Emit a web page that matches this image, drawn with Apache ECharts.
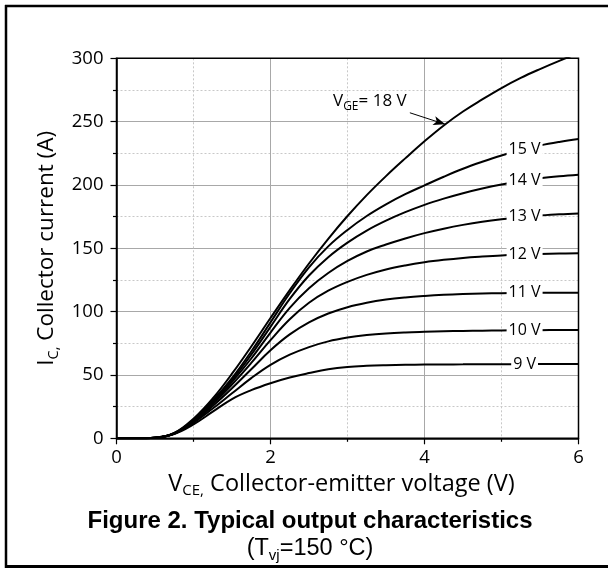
<!DOCTYPE html>
<html>
<head>
<meta charset="utf-8">
<script src="https://cdn.jsdelivr.net/npm/echarts@6/dist/echarts.min.js"></script>
<style>
html,body{margin:0;padding:0;background:#fff;}
#c{width:608px;height:568px;}
</style>
</head>
<body>
<div id="c"></div>
<script>
// ---- data ----
const vce  = [0, 0.25, 0.5, 0.75, 1, 1.25, 1.5, 1.75, 2, 2.25, 2.5, 2.75, 3, 3.25, 3.5, 3.75, 4, 4.25, 4.5, 4.75, 5, 5.25, 5.5, 5.75, 6];
const ic9  = [0, 0, 0.4, 3.4, 11, 21, 31, 38, 43.5, 48, 51.5, 54.5, 56.3, 57.2, 57.7, 58, 58.2, 58.3, 58.4, 58.5, 58.5, 58.6, 58.6, 58.7, 58.7];
const ic10 = [0, 0, 0.4, 3.6, 12.2, 23.5, 35.5, 47.5, 58, 66, 72, 76.5, 79.5, 81.5, 82.8, 83.6, 84.1, 84.5, 84.8, 85, 85.2, 85.3, 85.4, 85.5, 85.5];
const ic11 = [0, 0, 0.4, 3.7, 13, 25.5, 39.5, 54.5, 69.5, 82, 91.5, 98.5, 103.5, 107, 109.5, 111.2, 112.4, 113.3, 113.9, 114.3, 114.6, 114.8, 114.9, 115, 115];
const ic12 = [0, 0, 0.4, 3.8, 13.5, 27, 42.5, 59.5, 77.5, 94, 107, 116.5, 123.5, 129, 133.3, 136.5, 139, 140.9, 142.4, 143.5, 144.4, 145, 145.5, 145.8, 146];
const ic13 = [0, 0, 0.4, 3.9, 14, 28, 44.5, 63, 83.5, 103, 118.5, 130.5, 140, 147.5, 153, 157.8, 162, 165.5, 168.5, 171, 173, 174.6, 175.8, 176.8, 177.5];
const ic14 = [0, 0, 0.4, 4, 14.5, 29, 46, 66, 88, 110, 128.5, 143, 154.5, 164, 171.8, 178.5, 184.3, 189.2, 193.5, 197.2, 200.4, 203, 205.2, 206.8, 208];
const ic15 = [0, 0, 0.4, 4, 14.8, 29.8, 47.5, 68.5, 91.5, 114.5, 135, 151.5, 164.5, 175.5, 184.7, 192.7, 199.7, 206.5, 212.8, 218.3, 223.3, 227.6, 231.2, 234, 236.3];
const ic18 = [0, 0, 0.4, 4.2, 15.5, 31.5, 51, 72.5, 95, 117, 138, 157.5, 175.5, 192, 207, 221, 234.5, 247, 258, 267.5, 276.5, 284.5, 291.5, 298, 304];
const curveNames = ['9 V', '10 V', '11 V', '12 V', '13 V', '14 V', '15 V', '18 V'];
const curves = [ic9, ic10, ic11, ic12, ic13, ic14, ic15, ic18];
const xTicks = [0, 2, 4, 6];
const yTicks = [0, 50, 100, 150, 200, 250, 300];

// annotation placement (layout, not data)
const LABEL_V = 5.3;
const VGE_LABEL = [3.29, 265];
const ARROW_FROM = [3.81, 257];
const ARROW_TO_V = 4.27;

function interp(ys, x) {
  for (let i = 0; i < vce.length - 1; i++) {
    if (x >= vce[i] && x <= vce[i + 1]) {
      const t = (x - vce[i]) / (vce[i + 1] - vce[i]);
      return ys[i] + t * (ys[i + 1] - ys[i]);
    }
  }
  return ys[ys.length - 1];
}

const FONT = 'Open Sans';
const series = curves.map((ys, k) => {
  const s = {
    name: curveNames[k],
    type: 'line',
    data: vce.map((v, i) => [v, ys[i]]),
    symbol: 'none',
    smooth: 0.4,
    clip: true,
    lineStyle: { color: '#000', width: 2 },
    z: 3
  };
  if (k < curves.length - 1) {
    s.markPoint = {
      symbol: 'rect', symbolSize: 0, silent: true, animation: false,
      label: {
        show: true, position: 'inside', formatter: '{b}', color: '#000',
        fontFamily: FONT, fontSize: 16, backgroundColor: '#fff', padding: [0, 2]
      },
      data: [{ name: curveNames[k], coord: [LABEL_V, interp(ys, LABEL_V)] }]
    };
  } else {
    s.markPoint = {
      symbol: 'rect', symbolSize: 0, silent: true, animation: false,
      label: {
        show: true, position: 'inside', color: '#000',
        formatter: '{a|V}{b|GE}{a|= 18 V}',
        rich: {
          a: { fontFamily: FONT, fontSize: 17, color: '#000', lineHeight: 20, verticalAlign: 'top' },
          b: { fontFamily: FONT, fontSize: 12, color: '#000', lineHeight: 8, verticalAlign: 'bottom' }
        }
      },
      data: [{ name: 'VGE', coord: VGE_LABEL }]
    };
    s.markLine = {
      silent: true, animation: false,
      symbol: ['none', 'arrow'], symbolSize: [7, 12],
      lineStyle: { color: '#000', width: 1, type: 'solid' },
      label: { show: false },
      data: [[{ coord: ARROW_FROM }, { coord: [ARROW_TO_V, interp(ys, ARROW_TO_V)] }]]
    };
  }
  return s;
});

const axisCommon = {
  type: 'value',
  nameLocation: 'middle',
  axisLine: { show: true, lineStyle: { color: '#000', width: 1.5 } },
  axisTick: { show: true, inside: false, length: 6, lineStyle: { color: '#000', width: 1.2 } },
  minorTick: { show: true, splitNumber: 2, length: 3.5, lineStyle: { color: '#000', width: 1.2 } },
  splitLine: { show: true, lineStyle: { color: '#a8a8a8', width: 1 } },
  minorSplitLine: { show: true, lineStyle: { color: '#c8c8c8', width: 1, type: [2, 2] } },
  axisLabel: { color: '#000', fontFamily: FONT, fontSize: 18.5 }
};

function titleRich(size) {
  return {
    n: { fontFamily: FONT, fontSize: size, color: '#000', lineHeight: 26, verticalAlign: 'top' },
    s: { fontFamily: FONT, fontSize: size * 0.64, color: '#000', lineHeight: 10, verticalAlign: 'bottom' }
  };
}

const chart = echarts.init(document.getElementById('c'));
chart.setOption({
  animation: false,
  backgroundColor: '#fff',
  grid: { left: 116.5, right: 29.5, top: 58.3, bottom: 129.7, show: true, borderColor: '#000', borderWidth: 1.5, backgroundColor: 'transparent', z: 4 },
  xAxis: Object.assign({}, axisCommon, {
    min: xTicks[0], max: xTicks[xTicks.length - 1], interval: xTicks[1] - xTicks[0],
    axisLabel: Object.assign({}, axisCommon.axisLabel, { margin: 10 }),
    name: '{n|V}{s|CE,}{n| Collector-emitter voltage (V)}',
    nameGap: 33,
    nameTextStyle: { rich: titleRich(23.5), padding: [0, 12, 0, 0] }
  }),
  yAxis: Object.assign({}, axisCommon, {
    min: yTicks[0], max: yTicks[yTicks.length - 1], interval: yTicks[1] - yTicks[0],
    axisLabel: Object.assign({}, axisCommon.axisLabel, { margin: 13 }),
    name: '{n|I}{s|C,}{n| Collector current (A)}',
    nameGap: 50,
    nameTextStyle: { rich: titleRich(22.5) }
  }),
  series: series,
  graphic: [
    { type: 'line', shape: { x1: 5, y1: 6, x2: 608, y2: 6 }, style: { stroke: '#000', lineWidth: 2.5 } },
    { type: 'line', shape: { x1: 6, y1: 5, x2: 6, y2: 568 }, style: { stroke: '#000', lineWidth: 2.5 } },
    { type: 'line', shape: { x1: 5, y1: 566.5, x2: 608, y2: 566.5 }, style: { stroke: '#000', lineWidth: 3 } },
    { type: 'text', x: 310, y: 521, style: {
        text: 'Figure 2. Typical output characteristics', textAlign: 'center', textVerticalAlign: 'middle',
        font: 'bold 24px "Liberation Sans", Arial, sans-serif', fill: '#000' } },
    { type: 'text', x: 310, y: 550, style: {
        text: '{n|(T}{s|vj}{n|=150 °C)}', textAlign: 'center', textVerticalAlign: 'middle',
        rich: {
          n: { fontFamily: 'Liberation Sans', fontSize: 23.5, fill: '#000', color: '#000', lineHeight: 26, verticalAlign: 'top' },
          s: { fontFamily: 'Liberation Sans', fontSize: 15, fill: '#000', color: '#000', lineHeight: 10, verticalAlign: 'bottom' }
        } } }
  ]
});
</script>
</body>
</html>
